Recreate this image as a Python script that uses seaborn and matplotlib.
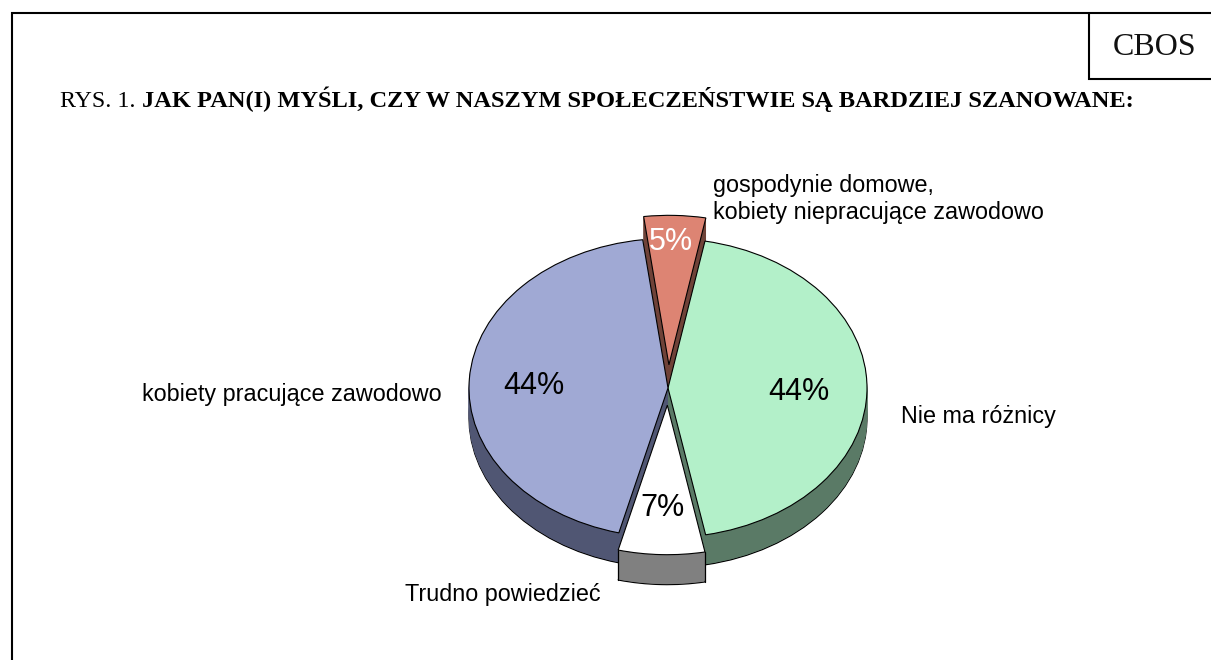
import matplotlib
matplotlib.use("Agg")
import matplotlib.pyplot as plt
import numpy as np
import seaborn as sns

categories = ["Nie ma różnicy", "Trudno powiedzieć", "kobiety pracujące zawodowo",
              "gospodynie domowe,\nkobiety niepracujące zawodowo"]
values = [44, 7, 44, 5]
pct_labels = ["44%", "7%", "44%", "5%"]
top_colors = ["#B3F0C9", "#FFFFFF", "#A0A9D4", "#DD8473"]
wall_colors = ["#5A7A66", "#808080", "#505673", "#6F4238"]
explode = [0, 0.115, 0, 0.155]
title_plain = "RYS. 1. "
title_bold = "JAK PAN(I) MYŚLI, CZY W NASZYM SPOŁECZEŃSTWIE SĄ BARDZIEJ SZANOWANE:"
source = "CBOS"

W, H = 1211, 660
CX, CY, RX, RY, DEPTH = 668, 388, 199, 149.5, 30
SPAN = 1.4
START = 79.3

sns.set_theme(style="white")
top_pal = sns.color_palette(top_colors)
wall_pal = sns.color_palette(wall_colors)

fig = plt.figure(figsize=(W / 100, H / 100), dpi=100, facecolor="white")
ax = fig.add_axes([(CX - SPAN * RX) / W, (H - CY - SPAN * RY) / H,
                   2 * SPAN * RX / W, 2 * SPAN * RY / H])
ax.patch.set_alpha(0)

# stacking order of the slices: red walls lowest, white slice on top
wall_z = [20, 60, 20, 1]
top_z = [50, 90, 50, 55]
dy = DEPTH / RY
for layer in range(DEPTH, 0, -1):
    wedges, _ = ax.pie(values, explode=explode, colors=wall_pal, startangle=START,
                       counterclock=False, radius=1, center=(0, -layer / RY), frame=False,
                       wedgeprops=dict(linewidth=0.8 if layer == DEPTH else 0.3))
    for i, w in enumerate(wedges):
        w.set_zorder(wall_z[i] + (DEPTH - layer) * 0.1)
        w.set_edgecolor("black" if layer == DEPTH else wall_pal[i])

wedges, _ = ax.pie(values, explode=explode, colors=top_pal, startangle=START,
                   counterclock=False, radius=1, frame=False,
                   wedgeprops=dict(linewidth=0.8, edgecolor="black"))
for i, w in enumerate(wedges):
    w.set_zorder(top_z[i])

# vertical corner edges of the white slice
white = wedges[1]
for th in (white.theta1, white.theta2):
    x = white.center[0] + np.cos(np.radians(th))
    y = white.center[1] + np.sin(np.radians(th))
    ax.plot([x, x], [y, y - dy], color="black", lw=0.9, zorder=89)

ax.set_aspect("auto")
ax.set_xlim(-SPAN, SPAN)
ax.set_ylim(-SPAN, SPAN)
ax.axis("off")

ov = fig.add_axes([0, 0, 1, 1], zorder=10)
ov.set_xlim(0, W)
ov.set_ylim(H, 0)
ov.axis("off")
ov.patch.set_alpha(0)

# frame and source box
ov.plot([12, 12, W], [H, 13, 13], color="black", lw=1.5, solid_joinstyle="miter")
ov.plot([1089, 1089, W], [13, 79, 79], color="black", lw=1.5, solid_joinstyle="miter")

serif = "Liberation Serif"
sans = "Liberation Sans"
ov.text(1113, 55, source, family=serif, fontsize=23, va="baseline", ha="left", color="#111111")
ov.text(60, 107, title_plain, family=serif, fontsize=13.4 * 75 / 58, va="baseline", ha="left", color="black")
ov.text(142, 107, title_bold, family=serif, fontsize=13.4 * 993 / 757, weight="bold", va="baseline", ha="left", color="black")

label_pos = [(901, 416, "left"), (405, 595, "left"), (142, 395, "left"), (713, 199, "left")]
for c, (x, y, ha) in zip(categories, label_pos):
    ov.text(x, y, c, family=sans, fontsize=16.8, va="center", ha=ha, color="black", linespacing=1.2)

pct_pos = [(799, 392), (662, 508), (534, 386), (671, 242)]
pct_col = ["black", "black", "black", "white"]
for t, (x, y), col in zip(pct_labels, pct_pos, pct_col):
    ov.text(x, y, t, family=sans, fontsize=22, va="center", ha="center", color=col)

fig.savefig("out.png", dpi=100)
